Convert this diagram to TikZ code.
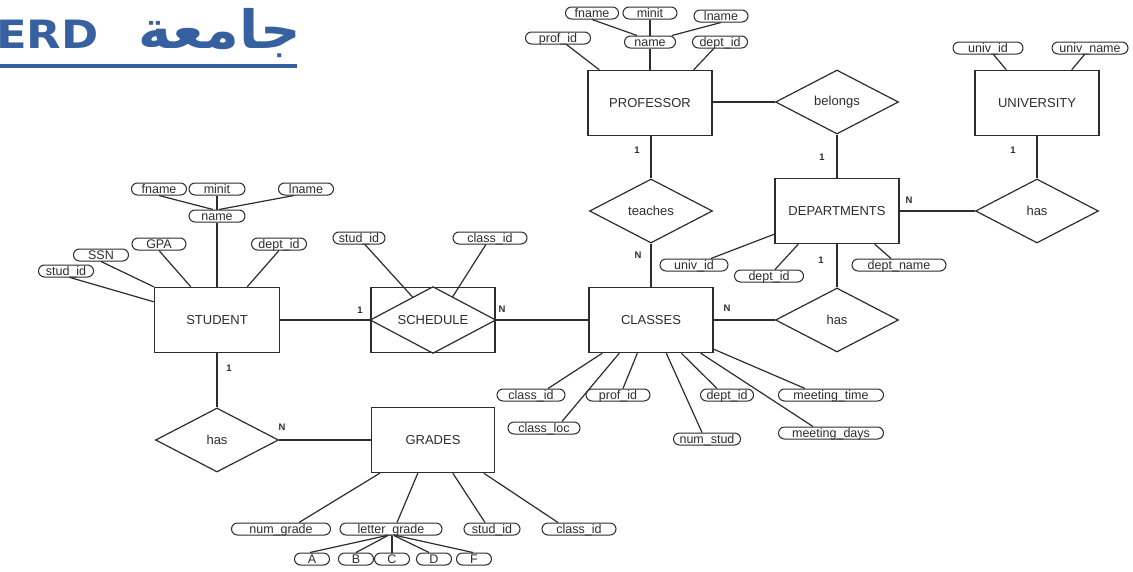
\documentclass[tikz,border=0pt]{standalone}
\usepackage{fontspec}
\setmainfont{Liberation Sans}
\newfontfamily\arabicfont[Script=Arabic]{DejaVu Sans}
\TeXXeTstate=1
\usetikzlibrary{shapes.geometric,calc}
\definecolor{tieude}{RGB}{55,96,160}
\definecolor{net}{RGB}{45,45,45}
\begin{document}
\begin{tikzpicture}[x=1pt,y=-1pt,
  entity/.style={draw=net,line width=1.4pt,minimum width=124pt,minimum height=65pt,inner sep=0pt,text=net,font=\fontsize{13}{13}\selectfont},
  rel/.style={draw=net,line width=1.2pt,diamond,minimum width=123pt,minimum height=64pt,inner sep=0pt,text=net,font=\fontsize{13}{13}\selectfont},
  attr/.style={draw=net,line width=1pt,rounded corners=6pt,minimum width=#1,minimum height=12pt,text height=9.5pt,text depth=0.5pt,inner xsep=0.8pt,inner ysep=0.5pt,text=net,font=\fontsize{12.5}{12.5}\selectfont},
  attr/.default=54pt,
  card/.style={inner sep=0pt,text=net,font=\fontsize{9.5}{9.5}\selectfont\bfseries},
  lk/.style={draw=net,line width=1.2pt}]
\path[use as bounding box,clip] (0,0) rectangle (1133,571);
\fill[white] (0,0) rectangle (1133,571);
%Tieu de
\node[anchor=base west,inner sep=0pt,text=tieude,font=\arabicfont\bfseries\fontsize{39}{39}\selectfont] (ttl) at (-4,48)
  {\scalebox{1.15}[1]{ERD}\hspace*{40pt}\fontsize{48}{48}\selectfont\scalebox{1.17}[1.1]{\beginR جامعة\endR}};
\draw[tieude,line width=4pt] (0,66) -- (297,66);
%PROFESSOR
\node[entity] (prof) at (650,103) {PROFESSOR};
\node[attr=65pt] (pid) at (558,38) {prof\_id};
\node[attr=53pt] (pfn) at (592,13) {fname};
\node[attr] (pmi) at (650,13) {minit};
\node[attr] (pln) at (721,16) {lname};
\node[attr=51pt] (pnm) at (650,42) {name};
\node[attr=55pt] (pdid) at (720,42) {dept\_id};
\draw[lk] (pid) -- ([xshift=12pt]prof.north west);
\draw[lk] (pfn.south) -- ([xshift=-13pt]pnm.north);
\draw[lk] (pmi) -- (pnm);
\draw[lk] (pln.south) -- ([xshift=22pt]pnm.north);
\draw[lk] (pnm) -- (prof);
\draw[lk] (pdid) -- ([xshift=-19pt]prof.north east);
%belongs
\node[rel] (bel) at (837,102) {belongs};
\draw[lk] (prof.east |- bel) -- (bel.west);
\draw[lk] (bel.south) -- (837,178);
\node[card] (c1) at (822,157) {1};
%UNIVERSITY
\node[entity] (univ) at (1037,103) {UNIVERSITY};
\node[attr=70pt] (uid) at (988,48) {univ\_id};
\node[attr=76pt] (unm) at (1090,48) {univ\_name};
\draw[lk] (uid) -- ([xshift=32pt]univ.north west);
\draw[lk] (unm) -- ([xshift=-28pt]univ.north east);
%DEPARTMENTS
\node[entity] (dept) at (837,211) {DEPARTMENTS};
\node[attr=68pt] (duid) at (694,265) {univ\_id};
\node[attr=69pt] (ddid) at (769,276) {dept\_id};
\node[attr=94pt] (dnm) at (899,265) {dept\_name};
\draw[lk] (duid) -- ([yshift=10pt]dept.south west);
\draw[lk] (ddid) -- ([xshift=24pt]dept.south west);
\draw[lk] ([xshift=-8pt]dnm.north) -- ([xshift=-25pt]dept.south east);
%has (UNIVERSITY - DEPARTMENTS)
\node[rel] (hasu) at (1037,211) {has};
\draw[lk] (univ.south) -- (hasu.north);
\draw[lk] (dept.east) -- (hasu.west);
\node[card] (c2) at (1013,150) {1};
\node[card] (c3) at (909,200) {N};
%teaches
\node[rel] (tea) at (651,211) {teaches};
\draw[lk] (prof.south -| tea) -- (tea.north);
\node[card] (c4) at (637,150) {1};
%CLASSES
\node[entity] (cls) at (651,320) {CLASSES};
\draw[lk] (tea.south) -- (cls.north);
\node[card] (c5) at (638,255) {N};
\node[attr=68pt] (ccid) at (531,395) {class\_id};
\node[attr=72pt] (cloc) at (544,428) {class\_loc};
\node[attr=64pt] (cpid) at (618,395) {prof\_id};
\node[attr=67pt] (cns) at (707,439) {num\_stud};
\node[attr=53pt] (cdid) at (727,395) {dept\_id};
\node[attr=105pt] (cmt) at (831,395) {meeting\_time};
\node[attr=105pt] (cmd) at (831,433) {meeting\_days};
\draw[lk] ([xshift=17pt]ccid.north) -- ([xshift=14pt]cls.south west);
\draw[lk] ([xshift=18pt]cloc.north) -- ([xshift=31pt]cls.south west);
\draw[lk] ([xshift=5pt]cpid.north) -- ([xshift=49pt]cls.south west);
\draw[lk] ([xshift=-5pt]cns.north) -- ([xshift=78pt]cls.south west);
\draw[lk] ([xshift=-10pt]cdid.north) -- ([xshift=93pt]cls.south west);
\draw[lk] ([xshift=-26pt]cmt.north) -- ([yshift=4pt]cls.south east);
\draw[lk] ([xshift=-18pt]cmd.north) -- ([xshift=-13pt]cls.south east);
%has (DEPARTMENTS - CLASSES)
\node[rel] (hasd) at (837,320) {has};
\draw[lk] (dept.south) -- (hasd.north);
\draw[lk] (cls.east) -- (hasd.west);
\node[card] (c6) at (821,260) {1};
\node[card] (c7) at (727,308) {N};
%SCHEDULE
\node[entity] (sch) at (433,320) {SCHEDULE};
\draw[draw=net,line width=1.2pt] (sch.west) -- (sch.north) -- (sch.east) -- (sch.south) -- cycle;
\node[attr=52pt] (ssid) at (359,238) {stud\_id};
\node[attr=74pt] (scid) at (490,238) {class\_id};
\draw[lk] (ssid) -- ($(sch.west)!0.68!(sch.north)$);
\draw[lk] (scid) -- ($(sch.north)!0.31!(sch.east)$);
\draw[lk] (sch.east) -- (cls.west);
\node[card] (c8) at (360,310) {1};
\node[card] (c9) at (502,309) {N};
%STUDENT
\node[entity,minimum width=125pt] (stu) at (217,320) {STUDENT};
\node[attr=55pt] (sfn) at (159,189) {fname};
\node[attr=56pt] (smi) at (217,189) {minit};
\node[attr=55pt] (sln) at (306,189) {lname};
\node[attr=56pt] (snm) at (217,216) {name};
\node[attr=54pt] (sgpa) at (159,244) {GPA};
\node[attr=55pt] (sssn) at (101,255) {SSN};
\node[attr=55pt] (sid) at (66,271) {stud\_id};
\node[attr=55pt] (sdid) at (279,244) {dept\_id};
\draw[lk] (sfn.south) -- ([xshift=-4pt]snm.north);
\draw[lk] (smi) -- (snm);
\draw[lk] ([xshift=-12pt]sln.south) -- ([xshift=2pt]snm.north);
\draw[lk] (snm) -- (stu);
\draw[lk] (sgpa.south) -- ([xshift=37pt]stu.north west);
\draw[lk] (sssn.south) -- (stu.north west);
\draw[lk] ([xshift=4pt]sid.south) -- ([yshift=-15pt]stu.north west);
\draw[lk] (sdid.south) -- ([xshift=-33pt]stu.north east);
\draw[lk] (stu.east) -- (sch.west);
%has (STUDENT - GRADES)
\node[rel] (hasg) at (217,440) {has};
\draw[lk] (stu.south) -- (hasg.north);
\node[card] (c10) at (229,368) {1};
\node[card] (c11) at (282,427) {N};
%GRADES
\node[entity,minimum width=123pt] (grd) at (433,440) {GRADES};
\draw[lk] (hasg.east) -- (grd.west);
\node[attr=99pt] (gng) at (281,529) {num\_grade};
\node[attr=102pt] (glg) at (391,529) {letter\_grade};
\node[attr=56pt] (gsid) at (492,529) {stud\_id};
\node[attr=74pt] (gcid) at (579,529) {class\_id};
\draw[lk] ([xshift=18pt]gng.north) -- ([xshift=9pt]grd.south west);
\draw[lk] ([xshift=6pt]glg.north) -- ([xshift=47pt]grd.south west);
\draw[lk] ([xshift=-7pt]gsid.north) -- ([xshift=82pt]grd.south west);
\draw[lk] ([xshift=-21pt]gcid.north) -- ([xshift=113pt]grd.south west);
%A B C D F
\node[attr=35pt] (la) at (312,559) {A};
\node[attr=35pt] (lb) at (356,559) {B};
\node[attr=35pt] (lc) at (392,559) {C};
\node[attr=35pt] (ld) at (434,559) {D};
\node[attr=35pt] (lf) at (474,559) {F};
\draw[lk] ([xshift=-4pt]glg.south) -- ([xshift=-2pt]la.north);
\draw[lk] ([xshift=-3pt]glg.south) -- (lb.north);
\draw[lk] ([xshift=1pt]glg.south) -- (lc.north);
\draw[lk] ([xshift=3pt]glg.south) -- ([xshift=-5pt]ld.north);
\draw[lk] ([xshift=5pt]glg.south) -- ([xshift=-1pt]lf.north);
\end{tikzpicture}
\end{document}
